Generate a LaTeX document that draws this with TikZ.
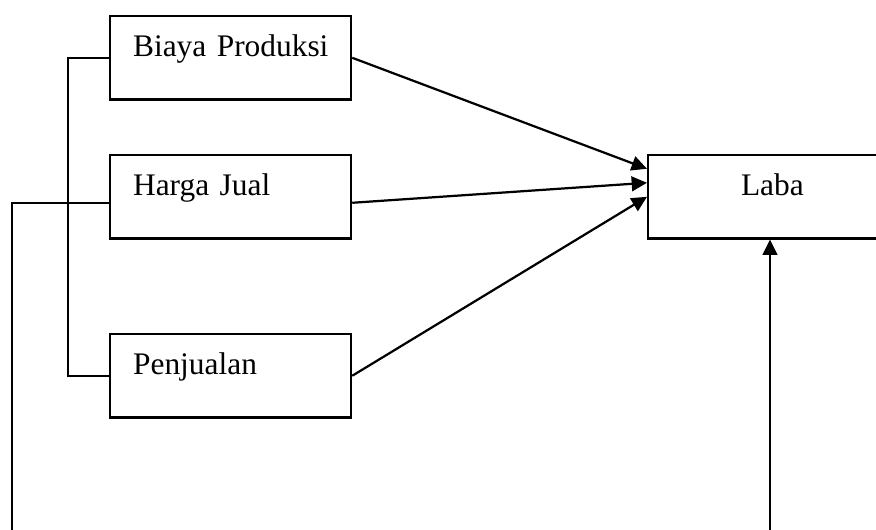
\documentclass[tikz,border=0pt]{standalone}
\usepackage{fontspec}
\setmainfont{Liberation Serif}
\usetikzlibrary{arrows.meta, positioning, calc}

\begin{document}
\begin{tikzpicture}[
  x=0.03cm, y=-0.03cm,
  font=\fontsize{26.8}{32}\selectfont,
  box/.style={draw, line width=1.9pt, anchor=north west, inner ysep=0pt, inner xsep=0.465cm,
              text width=6.3cm, align=left, text height=1.2cm, text depth=1.3cm,
              execute at begin node=\hspace*{0.225cm}},
  arr/.style={-{Triangle[length=0.46cm,width=0.44cm]}, line width=1.9pt},
  line/.style={line width=1.9pt},
]
\useasboundingbox (0,0) rectangle (876,529);

% --- the three causes on the left ---
\node[box] (bp) at (109,15)  {Biaya Produksi};
\node[box] (hj) at (109,154) {Harga Jual};
\node[box] (pj) at (109,333) {Penjualan};

% --- result, cut by the right edge ---
\node[box, align=center, execute at begin node={}] (lb) at (647,154) {Laba};

% --- arrows into Laba ---
\draw[arr] (bp.east) -- ([yshift=0.84cm]lb.west);
\draw[arr] ([yshift=-0.18cm]hj.east) -- ([yshift=0.42cm]lb.west);
\draw[arr] (pj.east) -- (lb.west);

% --- bracket lines on the left ---
\draw[line] (bp.west) -- ++(-41,0) |- (pj.west);
\coordinate (hjend) at (12,535);
\draw[line] ([yshift=-0.18cm]hj.west) -| (hjend);

% --- arrow from below ---
\coordinate (lbsrc) at (770,535);
\draw[arr] (lbsrc) -- (lbsrc |- lb.south);
\end{tikzpicture}
\end{document}
